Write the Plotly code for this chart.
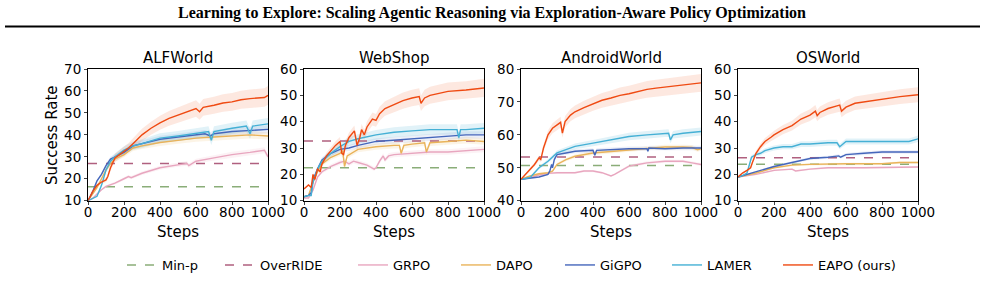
import plotly.graph_objects as go

# ---------------- data ----------------
panels = ["ALFWorld", "WebShop", "AndroidWorld", "OSWorld"]
y_ranges = [[10, 70], [10, 60], [40, 80], [10, 60]]
x_ticks = [0, 200, 400, 600, 800, 1000]

series_names = ["GRPO", "DAPO", "GiGPO", "LAMER", "EAPO (ours)"]

# Baselines (horizontal dashed lines)
minp_vals = [16.3, 22.5, 50.7, 23.8]
override_vals = [27.0, 32.7, 53.3, 26.3]

# ---- ALFWorld ----
alf_grpo_x = [0, 25, 50, 75, 100, 150, 200, 225, 240, 300, 400, 500, 550, 560, 600, 700, 800, 900, 980, 1000]
alf_grpo_y = [10, 11, 13, 15, 16.5, 18, 20, 21, 20.5, 22.5, 25, 26.5, 27, 26, 28, 29.5, 31, 32, 33, 30]
alf_dapo_x = [0, 25, 50, 75, 100, 125, 150, 200, 250, 300, 400, 500, 600, 700, 800, 900, 1000]
alf_dapo_y = [10, 13, 16, 20, 24, 27, 29, 31, 34, 35, 36.5, 37.5, 38.5, 39, 39.5, 40, 39.5]
alf_gigpo_x = [0, 25, 50, 75, 100, 125, 150, 200, 250, 300, 400, 500, 600, 650, 680, 700, 800, 900, 1000]
alf_gigpo_y = [10, 14, 19, 22, 26, 29, 30, 32, 35, 36, 38, 39, 40, 40.5, 39.5, 40.5, 41.5, 42, 42.5]
alf_lamer_x = [0, 25, 50, 75, 100, 125, 150, 200, 250, 300, 400, 500, 600, 650, 670, 685, 700, 800, 880, 900, 915, 1000]
alf_lamer_y = [10, 11, 12, 17, 24, 28, 30, 33, 35, 36, 38.5, 39.5, 40.5, 41, 41.5, 37.5, 41.5, 43, 44, 40.5, 44, 45]
alf_eapo_x = [0, 25, 50, 75, 100, 110, 125, 140, 150, 175, 200, 225, 250, 275, 300, 350, 400, 450, 500, 550, 600, 620, 640, 700, 750, 800, 850, 900, 950, 980, 1000]
alf_eapo_y = [10, 14, 17, 18.5, 19.5, 21, 25, 28, 29.5, 31, 32.5, 34, 36, 38, 40, 43, 45.5, 47.5, 49, 50.5, 52, 50.5, 52.5, 53.5, 54.5, 55, 56, 56.5, 56.8, 57, 58]

# ---- WebShop ----
web_grpo_x = [0, 25, 50, 75, 100, 150, 200, 225, 250, 275, 300, 350, 390, 400, 420, 440, 450, 470, 500, 600, 700, 800, 900, 1000]
web_grpo_y = [11, 11, 14, 19, 21, 23, 24.5, 25, 24, 25, 24.5, 23.5, 22, 22.5, 25, 27, 25.5, 27, 27.5, 28, 28.5, 28.5, 29, 29.5]
web_dapo_x = [0, 25, 50, 75, 100, 150, 200, 215, 225, 240, 300, 400, 500, 530, 540, 555, 600, 670, 680, 700, 800, 900, 1000]
web_dapo_y = [11.5, 12, 17, 21, 24, 26.5, 28, 29, 23, 27, 29.5, 30.5, 31, 31, 28, 31, 31.5, 32, 28.5, 32, 32.5, 33, 32.5]
web_gigpo_x = [0, 25, 40, 50, 75, 100, 150, 200, 250, 300, 400, 500, 600, 700, 800, 900, 1000]
web_gigpo_y = [11.5, 12, 13, 18, 22, 25.5, 28, 29.5, 30, 31, 32.5, 33, 33.5, 34, 34.5, 35, 35]
web_lamer_x = [0, 25, 40, 50, 75, 100, 150, 200, 250, 300, 400, 500, 600, 700, 800, 850, 860, 870, 900, 1000]
web_lamer_y = [11.5, 12, 12, 17, 22, 25, 28, 30.5, 32.5, 33.5, 35, 36, 36.5, 37, 37, 37, 34, 37, 37, 37.5]
web_eapo_x = [0, 25, 40, 50, 60, 75, 90, 100, 125, 150, 175, 200, 210, 220, 230, 250, 280, 295, 310, 320, 335, 350, 380, 400, 420, 450, 500, 550, 600, 640, 650, 670, 700, 800, 900, 1000]
web_eapo_y = [14.5, 16, 15, 20, 18, 22, 21, 24, 27, 29, 31, 32.5, 28, 27.5, 31, 34, 36.5, 31, 34, 37, 35, 38, 41, 40.5, 43, 45, 46.5, 48, 49, 49.5, 47, 49, 50, 51.5, 52, 52.8]

# ---- AndroidWorld ----
and_grpo_x = [0, 50, 100, 150, 200, 250, 300, 350, 400, 450, 500, 520, 550, 600, 650, 700, 800, 850, 900, 950, 1000]
and_grpo_y = [46.5, 47, 47.8, 48.3, 48.5, 48.5, 48.5, 49, 49, 48.5, 47.5, 48, 49, 50.5, 51, 51.5, 52, 52, 52, 51.5, 51]
and_dapo_x = [0, 50, 100, 150, 175, 200, 250, 300, 400, 500, 600, 700, 800, 900, 950, 980, 1000]
and_dapo_y = [46.5, 47.5, 48.2, 48.5, 49, 51, 52.5, 53.5, 54.5, 55, 55.5, 56, 56.3, 56.3, 56.2, 55.5, 55.8]
and_gigpo_x = [0, 50, 100, 150, 160, 170, 175, 185, 200, 250, 300, 400, 410, 420, 500, 600, 700, 705, 710, 800, 900, 1000]
and_gigpo_y = [46.5, 46.8, 47.2, 48, 49, 51, 50, 52.5, 54, 54.5, 55, 55.3, 53.8, 55.3, 55.5, 55.8, 55.8, 55, 56, 55.8, 56, 56]
and_lamer_x = [0, 50, 75, 100, 150, 200, 250, 300, 400, 500, 600, 700, 800, 820, 830, 845, 900, 1000]
and_lamer_y = [46.5, 47, 48.5, 50, 52, 54.5, 55.5, 56.5, 57.5, 58.5, 59.5, 60, 60.5, 60.5, 58.5, 60, 60.5, 61]
and_eapo_x = [0, 25, 50, 75, 100, 110, 125, 150, 175, 200, 220, 230, 245, 275, 300, 350, 400, 450, 500, 550, 600, 650, 700, 750, 800, 850, 900, 950, 1000]
and_eapo_y = [46.5, 48, 49.5, 51, 53, 52.5, 56, 60, 62, 63, 63.8, 60.5, 64, 66, 67, 68.3, 69.5, 70.5, 71.2, 72, 72.5, 73.2, 73.8, 74.2, 74.5, 74.8, 75.2, 75.5, 75.8]

# ---- OSWorld ----
os_grpo_x = [0, 100, 200, 300, 320, 400, 500, 600, 700, 1000]
os_grpo_y = [19, 20, 21.5, 22, 21.3, 22, 22.5, 22.5, 22.5, 22.8]
os_dapo_x = [0, 100, 200, 300, 400, 500, 600, 700, 800, 900, 1000]
os_dapo_y = [19, 20.5, 22.5, 23.5, 23.8, 24, 24, 24, 24, 24.5, 24.5]
os_gigpo_x = [0, 100, 200, 300, 400, 500, 560, 570, 600, 700, 800, 1000]
os_gigpo_y = [19, 21, 23, 24.5, 26, 26.5, 27, 26.5, 27.5, 28, 28.5, 28.5]
os_lamer_x = [0, 25, 50, 60, 75, 100, 125, 150, 200, 250, 300, 350, 400, 500, 550, 565, 580, 600, 700, 800, 900, 950, 1000]
os_lamer_y = [19, 19.5, 20.5, 23, 26.5, 27.5, 28, 29, 30, 30.5, 30.5, 31.5, 31.5, 32, 32, 30.5, 31.5, 32.5, 32.5, 32.5, 32.5, 32.5, 33.5]
os_eapo_x = [0, 25, 50, 70, 80, 100, 125, 150, 185, 200, 250, 300, 350, 400, 430, 440, 455, 500, 550, 565, 575, 600, 650, 700, 800, 900, 1000]
os_eapo_y = [19, 20.5, 21.5, 22.5, 24.5, 28, 30.5, 32.5, 34.2, 35, 37, 38.5, 41, 42.5, 44, 42.3, 43.5, 45, 46, 46.3, 44, 45.5, 47, 47.5, 48.5, 49.5, 50.2]

panel_series = [
    [(alf_grpo_x, alf_grpo_y), (alf_dapo_x, alf_dapo_y), (alf_gigpo_x, alf_gigpo_y), (alf_lamer_x, alf_lamer_y), (alf_eapo_x, alf_eapo_y)],
    [(web_grpo_x, web_grpo_y), (web_dapo_x, web_dapo_y), (web_gigpo_x, web_gigpo_y), (web_lamer_x, web_lamer_y), (web_eapo_x, web_eapo_y)],
    [(and_grpo_x, and_grpo_y), (and_dapo_x, and_dapo_y), (and_gigpo_x, and_gigpo_y), (and_lamer_x, and_lamer_y), (and_eapo_x, and_eapo_y)],
    [(os_grpo_x, os_grpo_y), (os_dapo_x, os_dapo_y), (os_gigpo_x, os_gigpo_y), (os_lamer_x, os_lamer_y), (os_eapo_x, os_eapo_y)],
]
# relative spread of the shaded band (fraction of gain over start)
band_frac = [0.05, 0.05, 0.05, 0.07, 0.085]

# ---------------- styles ----------------
colors = ["#e8a6bf", "#e9b35a", "#4466bb", "#45b0d5", "#ef4a12"]
band_colors = ["rgba(232,166,191,0.15)", "rgba(233,179,90,0.15)", "rgba(68,102,187,0.10)",
               "rgba(69,176,213,0.16)", "rgba(239,74,18,0.13)"]
minp_color = "#8aad78"
override_color = "#b0607f"

W, H = 985, 281
x_px = [(88, 268), (304, 484), (521, 701), (738, 918)]
y_top, y_bot = 69, 200.7
font_fam = "DejaVu Sans"
# legend text left edges (px) for: Min-p, OverRIDE, GRPO, DAPO, GiGPO, LAMER, EAPO
legend_text_px = [162, 260, 393, 496, 600, 707, 818]

fig = go.Figure()
layout = dict(
    width=W, height=H, margin=dict(l=0, r=0, t=0, b=0, autoexpand=False),
    paper_bgcolor="white", plot_bgcolor="white",
    font=dict(family=font_fam, color="black"),
    showlegend=True,
)
legend_ids = ["legend"] + ["legend%d" % k for k in range(2, 8)]
annotations = []
for i, name in enumerate(panels):
    ax = "" if i == 0 else str(i + 1)
    xa, ya = "x" + ax, "y" + ax
    # bands
    for j, (xs, ys) in enumerate(panel_series[i]):
        y0 = ys[0]
        hw = [band_frac[j] * (v - y0) + 0.2 for v in ys]
        up = [v + h for v, h in zip(ys, hw)]
        lo = [v - h for v, h in zip(ys, hw)]
        fig.add_trace(go.Scatter(x=list(xs) + list(xs)[::-1], y=up + lo[::-1], fill="toself",
                                 fillcolor=band_colors[j], line=dict(width=0), mode="lines",
                                 hoverinfo="skip", showlegend=False, xaxis=xa, yaxis=ya))
    # baselines
    fig.add_trace(go.Scatter(x=[0, 1000], y=[minp_vals[i]] * 2, mode="lines", name="Min-p",
                             line=dict(color=minp_color, width=1.5, dash="dash"), legend=legend_ids[0],
                             showlegend=(i == 0), xaxis=xa, yaxis=ya))
    fig.add_trace(go.Scatter(x=[0, 1000], y=[override_vals[i]] * 2, mode="lines", name="OverRIDE",
                             line=dict(color=override_color, width=1.5, dash="dash"), legend=legend_ids[1],
                             showlegend=(i == 0), xaxis=xa, yaxis=ya))
    for j, (xs, ys) in enumerate(panel_series[i]):
        fig.add_trace(go.Scatter(x=xs, y=ys, mode="lines", name=series_names[j],
                                 line=dict(color=colors[j], width=1.4), legend=legend_ids[2 + j],
                                 showlegend=(i == 0), xaxis=xa, yaxis=ya))
    x0, x1 = x_px[i]
    layout["xaxis" + ax] = dict(
        domain=[x0 / W, x1 / W], range=[0, 1000], anchor=ya,
        tickvals=x_ticks, ticks="outside", ticklen=3, tickwidth=0.8, ticklabelstandoff=-4,
        showline=True, linecolor="black", linewidth=1, mirror=True,
        showgrid=False, zeroline=False, tickfont=dict(size=13.5, family=font_fam),
    )
    layout["yaxis" + ax] = dict(
        domain=[1 - y_bot / H, 1 - y_top / H], range=y_ranges[i], anchor=xa,
        dtick=10, ticks="outside", ticklen=3, tickwidth=0.8,
        showline=True, linecolor="black", linewidth=1, mirror=True,
        showgrid=False, zeroline=False, tickfont=dict(size=13.5, family=font_fam),
    )
    cx = (x0 + x1) / 2 / W
    annotations.append(dict(text=name, x=cx, y=1 - 58 / H, xref="paper", yref="paper",
                            showarrow=False, xanchor="center", yanchor="middle",
                            font=dict(size=15, family=font_fam)))
    annotations.append(dict(text="Steps", x=cx, y=1 - 232 / H, xref="paper", yref="paper",
                            showarrow=False, xanchor="center", yanchor="middle",
                            font=dict(size=15, family=font_fam)))

annotations.append(dict(text="Success Rate", x=52 / W, y=1 - 135 / H, xref="paper", yref="paper",
                        showarrow=False, textangle=-90, xanchor="center", yanchor="middle",
                        font=dict(size=15, family=font_fam)))
annotations.append(dict(text="<b>Learning to Explore: Scaling Agentic Reasoning via Exploration-Aware Policy Optimization</b>",
                        x=492 / W, y=1 - 13 / H, xref="paper", yref="paper", showarrow=False,
                        xanchor="center", yanchor="middle",
                        font=dict(size=16, family="Liberation Serif")))
layout["annotations"] = annotations
layout["shapes"] = [dict(type="line", xref="paper", yref="paper", x0=5 / W, x1=980 / W,
                         y0=1 - 26.5 / H, y1=1 - 26.5 / H, line=dict(color="black", width=2))]
for k, lid in enumerate(legend_ids):
    layout[lid] = dict(orientation="h", x=(legend_text_px[k] - 40) / W, y=1 - 265 / H,
                       xref="container", yref="container", xanchor="left", yanchor="middle",
                       font=dict(size=13, family=font_fam), bgcolor="rgba(0,0,0,0)")
fig.update_layout(**layout)
fig.write_html("out.html")
